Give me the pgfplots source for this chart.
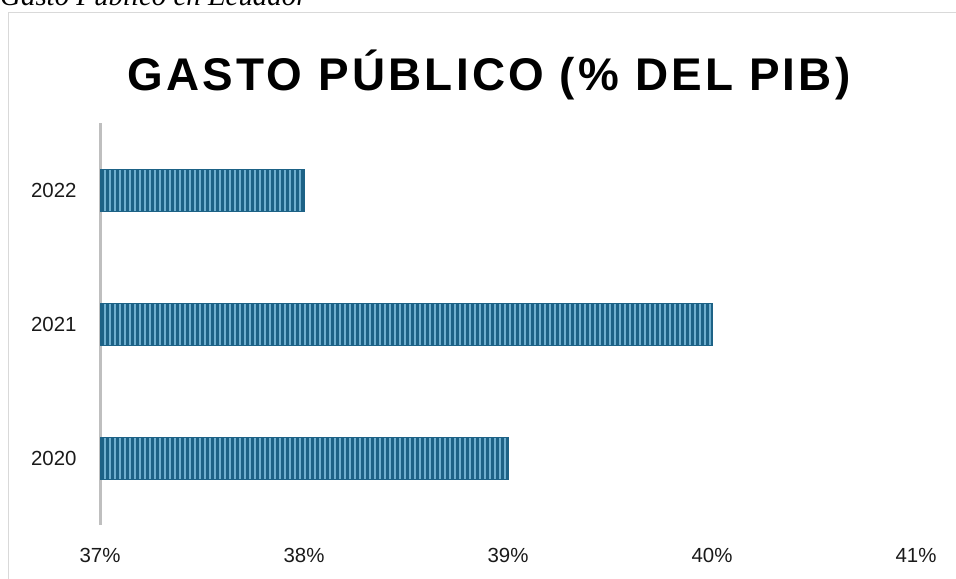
\documentclass[border=0pt]{standalone}
\usepackage{pgfplots}
\pgfplotsset{compat=1.18}
\usepackage{fontspec}
\setmainfont{Liberation Sans}
\newfontfamily\titlefont[LetterSpace=7]{Liberation Sans}
\newfontfamily\capfont{Liberation Serif}
\usetikzlibrary{patterns.meta}

\definecolor{bardark}{HTML}{1D6286}
\definecolor{barlight}{HTML}{6FAFCF}
\definecolor{axisgray}{HTML}{BFBFBF}
\definecolor{framegray}{HTML}{D9D9D9}
\definecolor{ticktext}{HTML}{1A1A1A}

\begin{document}
\begin{tikzpicture}[x=1bp,y=-1bp]
  \useasboundingbox (0,0) rectangle (956,579);
  % outer frame of the chart (cut off at right and bottom)
  \draw[framegray, line width=1bp] (8.5,600) -- (8.5,12.5) -- (970,12.5);
  % caption above the frame, cut off at the top
  \node[anchor=base west, inner sep=0pt, font=\capfont\itshape\fontsize{29}{32}\selectfont]
    at (0,6) {Gasto Público en Ecuador};
  % title
  \node[font=\titlefont\bfseries\fontsize{46}{52}\selectfont, inner sep=0pt]
    at (489,75) {GASTO PÚBLICO (\% DEL PIB)};

  \begin{axis}[
    at={(100bp,-525bp)}, anchor=south west,
    scale only axis,
    width=816bp, height=402bp,
    xmin=37, xmax=41,
    ymin=-0.5, ymax=2.5,
    xbar, bar width=42bp,
    separate axis lines,
    x axis line style={draw=none},
    y axis line style={draw=axisgray, line width=3bp},
    axis y line*=left,
    xtick={37,38,39,40,41},
    xticklabels={37\%,38\%,39\%,40\%,41\%},
    ytick={0,1,2},
    yticklabels={2020,2021,2022},
    major tick length=0pt,
    tick label style={font=\fontsize{20.5}{24}\selectfont, text=ticktext},
    xticklabel style={anchor=center, yshift=-30bp},
    yticklabel style={anchor=east, xshift=-20bp},
  ]
    \addplot[draw=bardark, line width=0.4bp, fill=bardark,
      postaction={pattern={Lines[angle=90, distance=5bp, line width=1.5bp]}, pattern color=barlight}]
      coordinates {(39,0) (40,1) (38,2)};
  \end{axis}
\end{tikzpicture}
\end{document}
